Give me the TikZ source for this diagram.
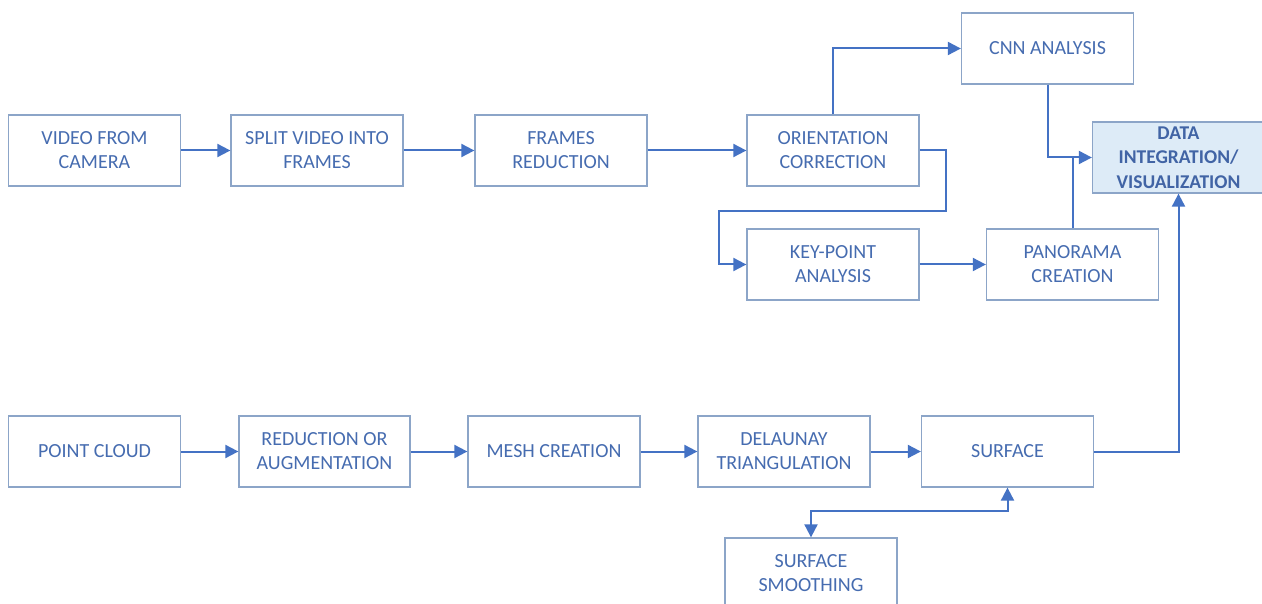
\documentclass[tikz,border=0pt]{standalone}
\usepackage{fontspec}
\setmainfont{Carlito}
\usetikzlibrary{arrows.meta}
\definecolor{linec}{RGB}{68,114,196}
\definecolor{boxc}{RGB}{140,165,200}
\definecolor{txtc}{RGB}{70,108,176}
\definecolor{dtxtc}{RGB}{65,100,165}
\definecolor{fillc}{RGB}{221,235,247}
\begin{document}
\begin{tikzpicture}[x=1pt,y=-1pt,
  box/.style={draw=boxc, line width=1.3pt, minimum width=172pt, minimum height=71pt,
    inner sep=0pt, text=txtc, align=center, font=\fontsize{20}{24}\selectfont},
  hibox/.style={box, fill=fillc, text=dtxtc, font=\fontsize{19.5}{24.5}\selectfont\bfseries},
  conn/.style={draw=linec, line width=2pt, -{Triangle[length=13pt,width=13pt]}},
  plain/.style={draw=linec, line width=2pt},
  both/.style={draw=linec, line width=2pt, {Triangle[length=13pt,width=13pt]}-{Triangle[length=13pt,width=13pt]}}
]
\useasboundingbox (0,0) rectangle (1262,604);
\fill[white] (0,0) rectangle (1262,604);

\node[box] (vfc) at (94.5,150.5) {VIDEO FROM\\CAMERA};
\node[box] (svf) at (317,150.5) {SPLIT VIDEO INTO\\FRAMES};
\node[box] (fr) at (561,150.5) {FRAMES\\REDUCTION};
\node[box] (oc) at (833,150.5) {ORIENTATION\\CORRECTION};
\node[box] (cnn) at (1047.5,48.5) {CNN ANALYSIS};
\node[hibox] (di) at (1178.5,157.5) {DATA\\INTEGRATION/\\VISUALIZATION};
\node[box] (kp) at (833,264.5) {KEY-POINT\\ANALYSIS};
\node[box] (pan) at (1072.5,264.5) {PANORAMA\\CREATION};

\node[box] (pc) at (94.5,451.5) {POINT CLOUD};
\node[box, minimum width=171pt] (ra) at (324.5,451.5) {REDUCTION OR\\AUGMENTATION};
\node[box] (mc) at (554,451.5) {MESH CREATION};
\node[box] (dt) at (784,451.5) {DELAUNAY\\TRIANGULATION};
\node[box] (sf) at (1007.5,451.5) {SURFACE};
\node[box] (ss) at (811,573.5) {SURFACE\\SMOOTHING};

\draw[conn] (vfc) -- (svf);
\draw[conn] (svf) -- (fr);
\draw[conn] (fr) -- (oc);
\draw[conn] (oc.north) |- (cnn.west);
\draw[conn] (oc.east) -- ++(26,0) -- ++(0,60.5) -| ([xshift=-27pt]kp.west) -- (kp.west);
\draw[conn] (kp) -- (pan);
\draw[conn] (cnn.south) |- (di.west);
\draw[plain] (pan.north) -- (pan.north |- di.west);

\draw[conn] (pc) -- (ra);
\draw[conn] (ra) -- (mc);
\draw[conn] (mc) -- (dt);
\draw[conn] (dt) -- (sf);
\draw[conn] (sf.east) -| (di.south);
\draw[both] (sf.south) -- ++(0,23) -| (ss.north);
\end{tikzpicture}
\end{document}
